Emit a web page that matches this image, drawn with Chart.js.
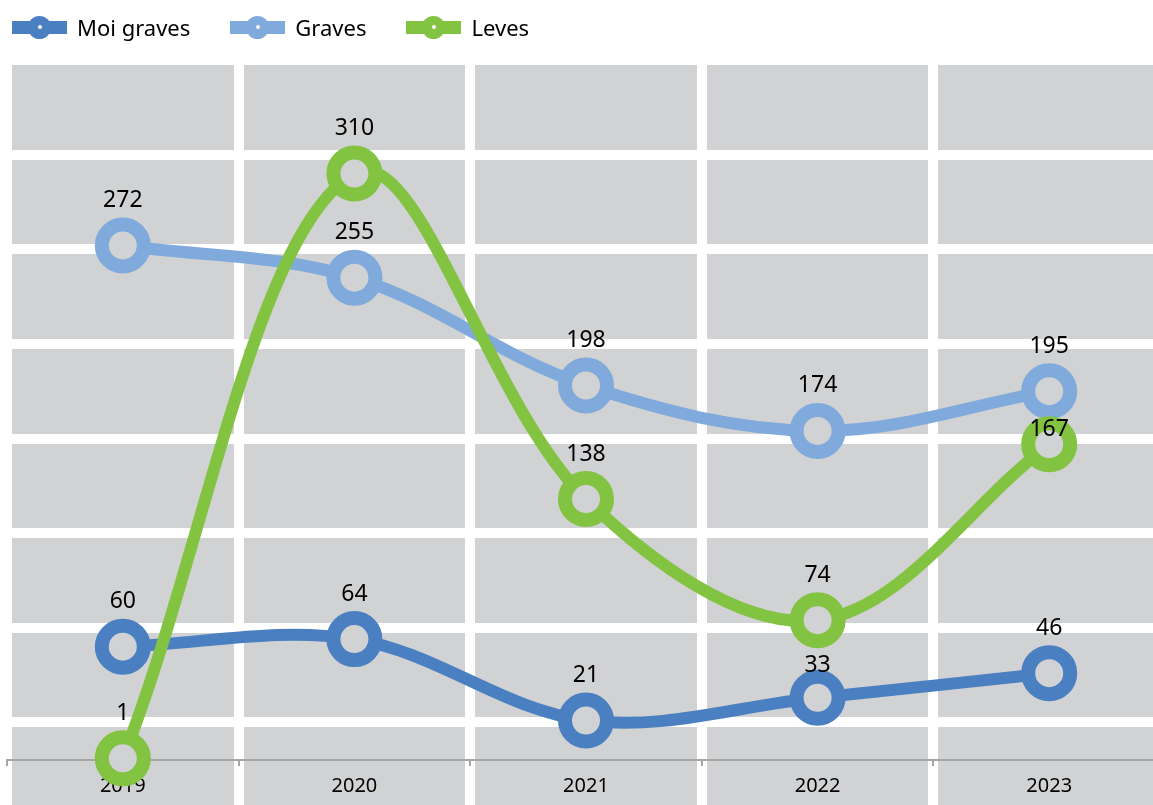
<!DOCTYPE html>
<html>
<head>
<meta charset="utf-8">
<title>Moi graves / Graves / Leves</title>
<script src="https://cdn.jsdelivr.net/npm/chart.js@4.4.1/dist/chart.umd.min.js"></script>
<style>
  html, body { margin: 0; padding: 0; overflow: hidden; background: #fff; }
  #wrap { position: relative; width: 1165px; height: 817px; }
  #legend {
    position: absolute; top: 0; left: 12px; height: 54px;
    display: flex; align-items: center;
    font-family: "Noto Sans", sans-serif; font-size: 22px; color: #000;
  }
  .item { display: flex; align-items: center; margin-right: 40px; }
  .icon { position: relative; width: 55px; height: 13px; margin-right: 10px; }
  .icon i { position: absolute; left: 16px; top: -5px; width: 23px; height: 23px; border-radius: 50%; background: inherit; }
  .icon b { position: absolute; left: 25.5px; top: 4.5px; width: 4px; height: 4px; border-radius: 50%; background: #fff; z-index: 1; }
</style>
</head>
<body>
<div id="wrap">
  <canvas id="chart"></canvas>
  <div id="legend"></div>
</div>
<script>
'use strict';

const years = ['2019', '2020', '2021', '2022', '2023']
const moiGraves = [60, 64, 21, 33, 46]
const graves = [272, 255, 198, 174, 195]
const leves = [1, 310, 138, 74, 167]
const yGrid = [20, 70, 120, 170, 220, 270, 320, 370]

const FONT = '"Noto Sans", sans-serif'
const PLOT_GREY = '#d1d2d4'

// how far each value label sits above its point (a couple were nudged in the original)
const labelLift = [
    [38.5, 38.5, 38.5, 26, 38.5],
    [38.5, 38.5, 38.5, 38.5, 38.5],
    [38.5, 38.5, 38.5, 38.5, 8]
]

const plotBackground = {
    id: 'plotBackground',
    beforeDraw(chart) {
        const { ctx, chartArea: a } = chart;
        ctx.save();
        ctx.fillStyle = PLOT_GREY;
        ctx.fillRect(a.left, a.top, a.right - a.left, a.bottom - a.top);
        ctx.restore();
    }
}

const valueLabels = {
    id: 'valueLabels',
    afterDatasetsDraw(chart) {
        const ctx = chart.ctx;
        ctx.save();
        ctx.font = '23px ' + FONT;
        ctx.fillStyle = '#000';
        ctx.textAlign = 'center';
        ctx.textBaseline = 'alphabetic';
        chart.data.datasets.forEach((ds, i) => {
            chart.getDatasetMeta(i).data.forEach((pt, j) => {
                ctx.fillText(ds.data[j], pt.x, pt.y - labelLift[i][j]);
            });
        });
        ctx.restore();
    }
}

function series(label, data, color, order) {
    return {
        label: label,
        data: data,
        borderColor: color,
        backgroundColor: color,
        borderWidth: 12,
        tension: 0.35,
        pointRadius: 21,
        pointHoverRadius: 21,
        pointBorderWidth: 14,
        pointBackgroundColor: PLOT_GREY,
        pointBorderColor: color,
        order: order
    }
}

const ctx = document.getElementById('chart').getContext('2d');
const chart = new Chart(ctx, {
    type: 'line',
    data: {
        labels: years,
        datasets: [
            series('Moi graves', moiGraves, '#4a7fc1', 3),
            series('Graves', graves, '#7faadb', 2),
            series('Leves', leves, '#82c341', 1)
        ]
    },
    options: {
        responsive: true,
        maintainAspectRatio: false,
        animation: false,
        layout: {
            autoPadding: false,
            padding: { top: 60, left: 7, right: 0, bottom: 0 }
        },
        plugins: {
            legend: { display: false },
            tooltip: { enabled: false }
        },
        scales: {
            x: {
                type: 'category',
                offset: true,
                position: { y: 0 },
                afterFit: (scale) => {
                    // axis sits on the zero line, it should not take room from the plot
                    scale.height = 0;
                    scale.paddingLeft = 0;
                    scale.paddingRight = 0;
                },
                grid: {
                    offset: true,
                    color: '#fff',
                    lineWidth: 10,
                    tickColor: '#a6a6a6',
                    tickWidth: 2,
                    tickLength: 5
                },
                border: { display: true, color: '#a6a6a6', width: 2 },
                ticks: {
                    color: '#000',
                    font: { family: FONT, size: 20 },
                    padding: 9,
                    maxRotation: 0,
                    autoSkip: false
                }
            },
            y: {
                min: -30,
                max: 370,
                afterBuildTicks: (scale) => { scale.ticks = yGrid.map(v => ({ value: v })) },
                afterFit: (scale) => { scale.width = 0 },
                ticks: { display: false },
                grid: { color: '#fff', lineWidth: 10, drawTicks: false },
                border: { display: false }
            }
        }
    },
    plugins: [plotBackground, valueLabels]
});

// html legend built from the chart's datasets
const legend = document.getElementById('legend')
chart.data.datasets.forEach(ds => {
    const item = document.createElement('div')
    item.className = 'item'
    item.innerHTML = `<span class="icon" style="background:${ds.borderColor}"><i></i><b></b></span><span>${ds.label}</span>`
    legend.appendChild(item)
})
</script>
</body>
</html>
